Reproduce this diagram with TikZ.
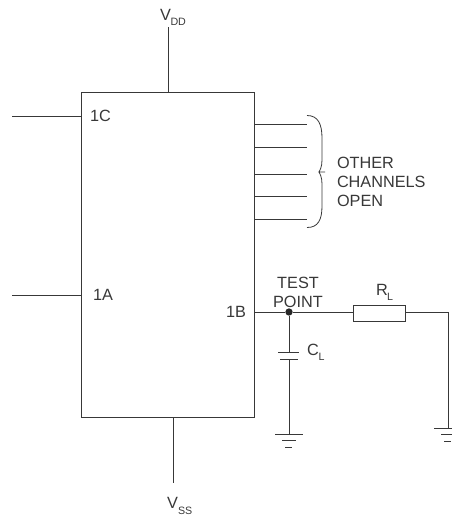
\documentclass[tikz,border=0pt]{standalone}
\usepackage{fontspec}
\setmainfont{Liberation Sans}
\usetikzlibrary{calc}
\definecolor{ink}{gray}{0.22}
\tikzset{
  x=0.75pt,y=-0.75pt,
  wire/.style={draw=ink,line width=0.75pt},
  lbl/.style={anchor=base west,inner sep=0pt,outer sep=0pt,text=ink,font=\fontsize{12.2pt}{14pt}\selectfont},
  sub/.style={anchor=base west,inner sep=0pt,outer sep=0pt,text=ink,font=\fontsize{8pt}{9pt}\selectfont},
  chip/.style={wire,rectangle,inner sep=0pt,minimum width=129.75pt,minimum height=243.75pt},
  res/.style={wire,rectangle,inner sep=0pt,minimum width=39pt,minimum height=12pt},
  dotn/.style={circle,fill=ink!70!black,inner sep=0pt,minimum size=5.5pt}
}
\begin{document}
\begin{tikzpicture}
\path[use as bounding box] (0,0) rectangle (452,518);
% chip
\node[chip] (box) at (167.5,254.5) {};
% supply terminals
\coordinate (vddtop) at (168,27);
\coordinate (vddin) at (168,92);
\coordinate (vssin) at (173,417);
\coordinate (vssend) at (173,483);
\draw[wire] (vddtop) -- (vddin);
\draw[wire] (vssin) -- (vssend);
% inputs
\coordinate (c1) at (12,116); \coordinate (c1e) at (81,116);
\coordinate (a1) at (12,295); \coordinate (a1e) at (81,295);
\draw[wire] (c1) -- (c1e);
\draw[wire] (a1) -- (a1e);
% other channels
\foreach \n/\yy in {1/124,2/147,3/174,4/196,5/219}{
  \coordinate (chs\n) at (254,\yy);
  \coordinate (che\n) at (307,\yy);
  \draw[wire] (chs\n) -- (che\n);
}
% brace
\coordinate (bt) at (307,115.5);
\coordinate (bb) at (307,227.5);
\coordinate (bm) at (325,172);
\draw[draw=ink,line width=0.6pt]
  (bt) .. controls (318,115.5) and (322,124) .. (322,138)
  -- (322,160) .. controls (322,167) and (320,170) .. (319,172)
  -- (bm) -- (319,172)
  .. controls (320,174) and (322,177) .. (322,184)
  -- (322,206) .. controls (322,220) and (318,227.5) .. (bb);
% output
\coordinate (b1) at (254,312);
\node[dotn] (tp) at (289,312) {};
\node[res] (rl) at (379,313) {};
\coordinate (rcorner) at (448,312);
\coordinate (rgnd) at (448,428);
\draw[wire] (b1) -- (tp);
\draw[wire] (tp) -- (rl.west |- tp);
\draw[wire] (rl.east |- rcorner) -- (rcorner) -- (rgnd);
% capacitor
\coordinate (captop) at (289,352);
\coordinate (capbot) at (289,359);
\coordinate (cgnd) at (289,434);
\draw[wire] (tp) -- (captop);
\draw[wire] (capbot) -- (cgnd);
\draw[wire] (278,352) -- (299,352);
\draw[wire] (280,359) -- (298,359);
% grounds
\draw[wire] (275,434) -- (303,434);
\draw[wire] (282,440.5) -- (296,440.5);
\draw[wire] (285,447) -- (292,447);
\draw[wire] (434,428) -- (462,428);
\draw[wire] (441,434.5) -- (455,434.5);
\draw[wire] (444,441) -- (451,441);
% labels
\node[lbl] (lvdd) at (160,20) {V};
\node[sub] (lvdds) at (170.5,25) {DD};
\node[lbl] (lvss) at (167,508) {V};
\node[sub] (lvsss) at (178,514) {SS};
\node[lbl] (l1c) at (90,121) {1C};
\node[lbl] (l1a) at (93,300) {1A};
\node[lbl] (l1b) at (226,317) {1B};
\node[lbl] (o1) at (337,168) {OTHER};
\node[lbl] (o2) at (337,187) {CHANNELS};
\node[lbl] (o3) at (337,206) {OPEN};
\node[lbl,anchor=base] (t1) at (298,288) {TEST};
\node[lbl,anchor=base] (t2) at (298,307) {POINT};
\node[lbl] (lr) at (376,295) {R};
\node[sub] (lrs) at (387,300) {L};
\node[lbl] (lc) at (307,355) {C};
\node[sub] (lcs) at (318.5,360) {L};
\end{tikzpicture}
\end{document}
